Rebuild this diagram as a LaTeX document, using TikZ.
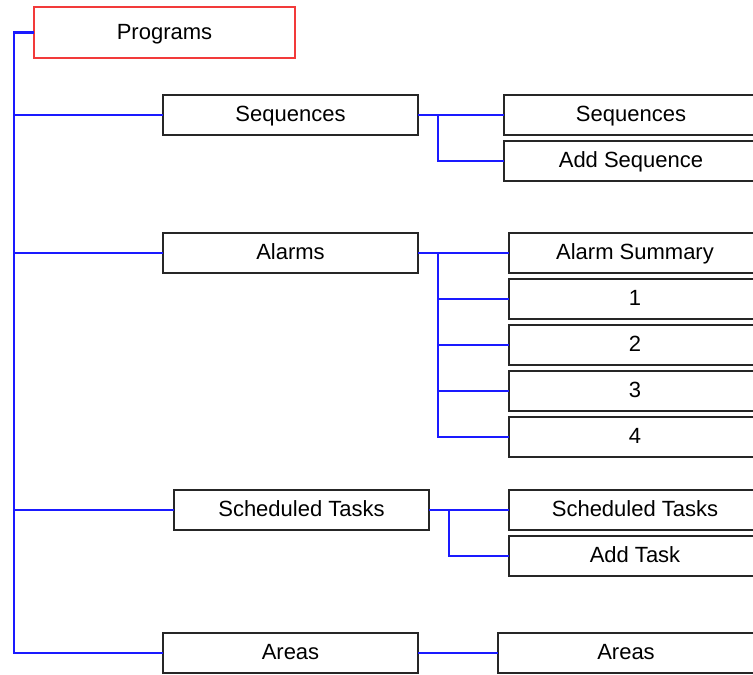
\documentclass[tikz,border=0pt]{standalone}
\usepackage{fontspec}
\setmainfont{Liberation Sans}
\definecolor{boxline}{HTML}{262626}
\definecolor{connblue}{HTML}{1A1AFF}
\definecolor{progred}{HTML}{F23A3A}
\begin{document}
\begin{tikzpicture}[x=1pt,y=-1pt,
  box/.style={draw=boxline,line width=1.8pt,fill=white,inner sep=0pt,outer sep=0pt,
    minimum height=40pt,text height=16.5pt,text depth=3.5pt,
    font=\fontsize{22}{24}\selectfont,anchor=center},
  conn/.style={draw=connblue,line width=2.2pt}]
\useasboundingbox (0,0) rectangle (753,675);
\clip (0,0) rectangle (753,675);
\fill[white] (0,0) rectangle (753,675);
% left column
\node[box,draw=progred,minimum width=261pt,minimum height=51pt] (prog) at (164.5,32.5) {Programs};
\node[box,minimum width=255pt] (seqL) at (290.5,115) {Sequences};
\node[box,minimum width=255pt] (alaL) at (290.5,253) {Alarms};
\node[box,minimum width=255pt] (schL) at (301.5,510) {Scheduled Tasks};
\node[box,minimum width=255pt] (areL) at (290.5,653) {Areas};
% right column
\node[box,minimum width=254pt] (seqR) at (631,115) {Sequences};
\node[box,minimum width=254pt] (addS) at (631,161) {Add Sequence};
\node[box,minimum width=252pt] (alaS) at (635,253) {Alarm Summary};
\node[box,minimum width=252pt] (al1) at (635,299) {1};
\node[box,minimum width=252pt] (al2) at (635,345) {2};
\node[box,minimum width=252pt] (al3) at (635,391) {3};
\node[box,minimum width=252pt] (al4) at (635,437) {4};
\node[box,minimum width=252pt] (schR) at (635,510) {Scheduled Tasks};
\node[box,minimum width=252pt] (addT) at (635,556) {Add Task};
\node[box,minimum width=256pt] (areR) at (626,653) {Areas};
% trunk
\coordinate (t) at (14,32.5);
\coordinate (sb) at (438,0);
\coordinate (ab) at (438,0);
\coordinate (tb) at (449,0);
\draw[conn] (prog.west) -- (t) |- (areL.west);
\draw[conn] (t) |- (seqL.west);
\draw[conn] (t) |- (alaL.west);
\draw[conn] (t) |- (schL.west);
% sequences
\draw[conn] (seqL.east) -- (seqR.west);
\draw[conn] (seqL.east -| sb) |- (addS.west);
% alarms
\draw[conn] (alaL.east) -- (alaS.west);
\draw[conn] (alaL.east -| ab) |- (al4.west);
\draw[conn] (al1.west -| ab) -- (al1.west);
\draw[conn] (al2.west -| ab) -- (al2.west);
\draw[conn] (al3.west -| ab) -- (al3.west);
% scheduled
\draw[conn] (schL.east) -- (schR.west);
\draw[conn] (schL.east -| tb) |- (addT.west);
% areas
\draw[conn] (areL.east) -- (areR.west);
\end{tikzpicture}
\end{document}
